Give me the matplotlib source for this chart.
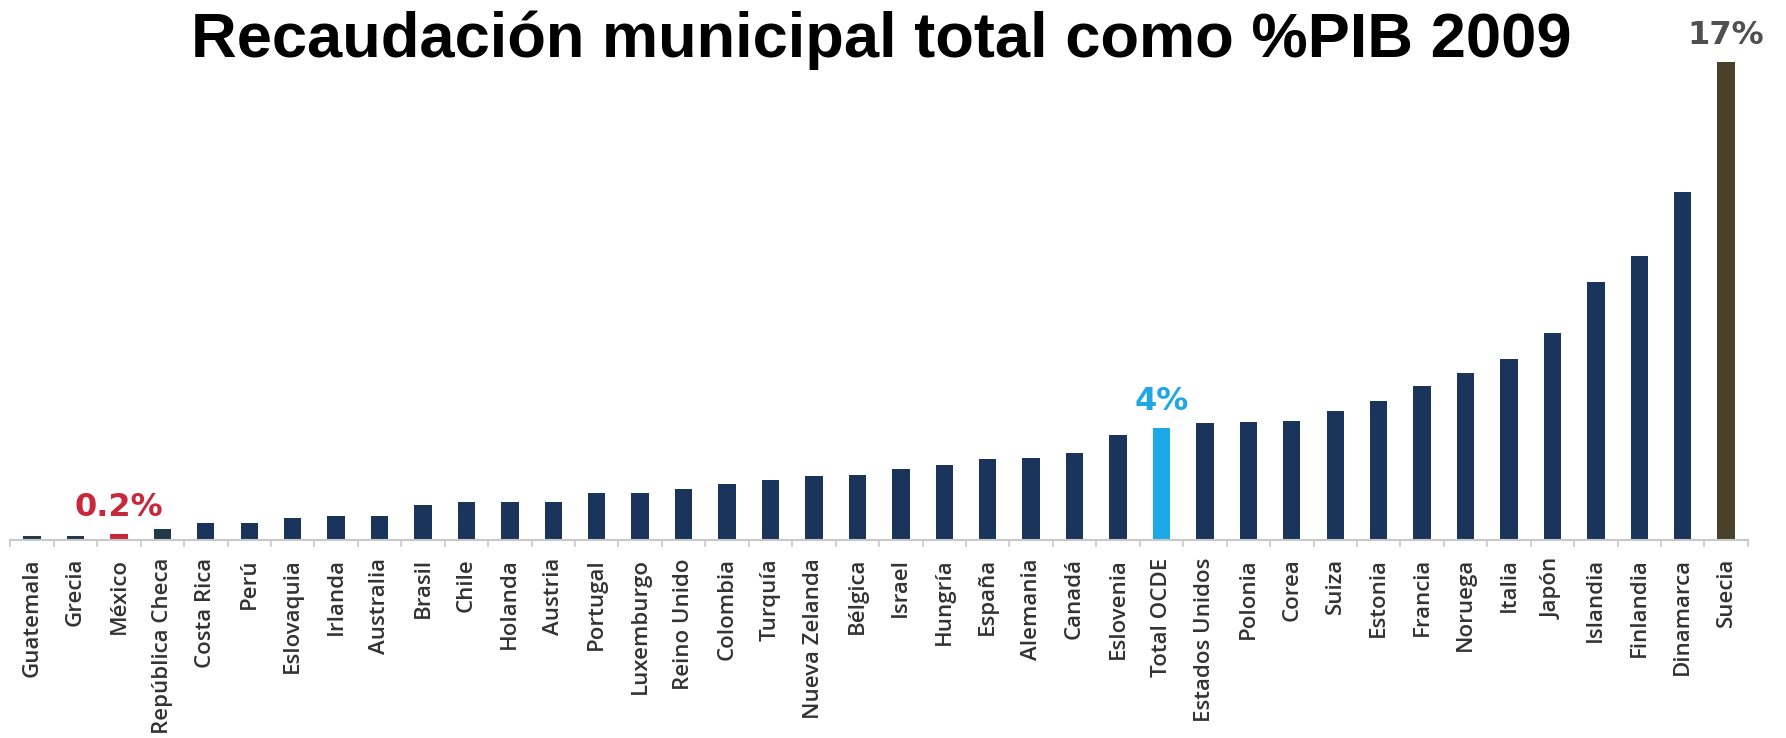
import matplotlib
matplotlib.use("Agg")
import matplotlib.pyplot as plt
import numpy as np

# datos
paises = ["Guatemala", "Grecia", "México", "República Checa", "Costa Rica", "Perú",
          "Eslovaquia", "Irlanda", "Australia", "Brasil", "Chile", "Holanda", "Austria",
          "Portugal", "Luxemburgo", "Reino Unido", "Colombia", "Turquía", "Nueva Zelanda",
          "Bélgica", "Israel", "Hungría", "España", "Alemania", "Canadá", "Eslovenia",
          "Total OCDE", "Estados Unidos", "Polonia", "Corea", "Suiza", "Estonia", "Francia",
          "Noruega", "Italia", "Japón", "Islandia", "Finlandia", "Dinamarca", "Suecia"]
recaudacion = [0.15, 0.15, 0.2, 0.4, 0.62, 0.62, 0.78, 0.84, 0.86, 1.23, 1.35, 1.35, 1.35,
               1.68, 1.68, 1.82, 2.01, 2.15, 2.27, 2.30, 2.51, 2.67, 2.87, 2.93, 3.11, 3.75,
               4.0, 4.17, 4.21, 4.22, 4.6, 4.94, 5.5, 5.95, 6.43, 7.36, 9.2, 10.1, 12.4, 17.0]
destacados = {"México": ("0.2%", "#c8283c"),
              "Total OCDE": ("4%", "#1fa8e4"),
              "Suecia": ("17%", "#505050")}

colores = []
for p in paises:
    if p == "México":
        colores.append("#c8283c")
    elif p == "Total OCDE":
        colores.append("#1ba9e8")
    elif p == "Suecia":
        colores.append("#4a412a")
    elif p in ("Guatemala", "Grecia", "República Checa"):
        colores.append("#22394a")
    else:
        colores.append("#1b345c")

fig = plt.figure(figsize=(17.86, 7.38), dpi=100)
ax = fig.add_axes([0.00577, 0.2683, 0.9729, 0.6775])

x = np.arange(len(paises))
ax.bar(x, recaudacion, width=0.4, color=colores)

ax.set_xlim(-0.5, len(paises) - 0.5)
ax.set_ylim(0, 17.8)

for s in ["top", "right", "left"]:
    ax.spines[s].set_visible(False)
ax.spines["bottom"].set_color("#c8c8c8")
ax.spines["bottom"].set_linewidth(1.5)
ax.set_yticks([])

ax.set_xticks(x)
ax.set_xticklabels(paises, rotation=90, fontsize=16, family="Open Sans",
                   fontweight="semibold", color="#333333")
ax.tick_params(axis="x", which="major", length=0, pad=13)
ax.set_xticks(np.arange(len(paises) + 1) - 0.5, minor=True)
ax.tick_params(axis="x", which="minor", length=5, width=1.2, color="#c8c8c8")

for p, (txt, col) in destacados.items():
    i = paises.index(p)
    ax.annotate(txt, (i, recaudacion[i]), xytext=(0, 13), textcoords="offset points",
                ha="center", va="baseline", fontsize=23, fontweight="bold",
                color=col, family="DejaVu Sans")

fig.text(0.4935, 0.986, "Recaudación municipal total como %PIB 2009", ha="center",
         va="top", fontsize=45.5, fontweight="bold", family="Liberation Sans", color="black")

fig.savefig("out.png", dpi=100, facecolor="white")
